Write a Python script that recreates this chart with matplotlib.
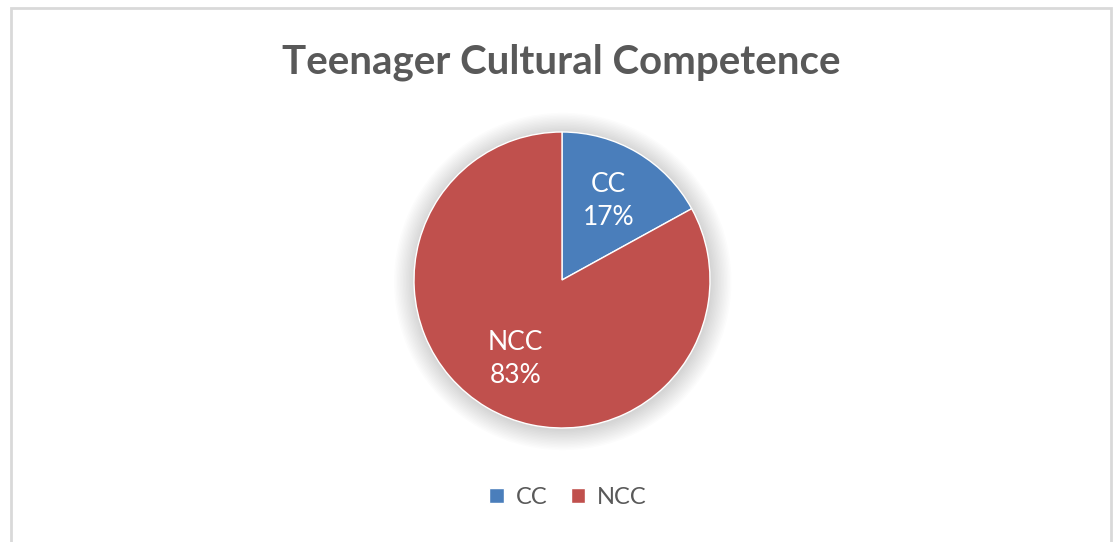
import matplotlib
matplotlib.use("Agg")
import matplotlib.pyplot as plt
from matplotlib.patches import Rectangle, Circle

# data
categories = ["CC", "NCC"]
shares = [17, 83]
colors = ["#4a7ebb", "#c0504d"]
title = "Teenager Cultural Competence"

plt.rcParams['font.family'] = ['Lato', 'DejaVu Sans']

W, H = 1114, 542
fig = plt.figure(figsize=(W / 100, H / 100), dpi=100)

# chart border
fig.patches.append(Rectangle((11 / W, -0.05), 1100 / W, 1.05 - 8 / H,
                             transform=fig.transFigure, fill=False,
                             edgecolor="#d9d9d9", linewidth=2))

cx, cy, r = 562, 280, 148
ax = fig.add_axes([(cx - r) / W, (H - cy - r) / H, 2 * r / W, 2 * r / H])

# soft shadow around pie
for i in range(14):
    ax.add_patch(Circle((0.005, -0.01), 1.0 + 0.01 * (14 - i), color="black",
                        alpha=0.01, linewidth=0, zorder=0, clip_on=False))

labels = ["%s\n%d%%" % (c, v) for c, v in zip(categories, shares)]
wedges, texts = ax.pie(shares, colors=colors, startangle=90, counterclock=False,
                       labels=labels, labeldistance=0.62,
                       wedgeprops=dict(edgecolor="white", linewidth=1))
for t in texts:
    t.set_color("white")
    t.set_fontsize(19)
    t.set_ha("center")
    t.set_va("center")
    t.set_linespacing(1.4)
ax.set_xlim(-1, 1)
ax.set_ylim(-1, 1)
ax.set_aspect("equal")
ax.axis("off")

fig.text(561 / W, 1 - 62 / H, title, ha="center", va="center",
         fontsize=29, fontweight="bold", color="#595959")

fig.legend(wedges, categories, loc="center", bbox_to_anchor=(568 / W, 1 - 497 / H),
           ncol=2, frameon=False, fontsize=17, labelcolor="#595959",
           handlelength=0.62, handleheight=0.62, handletextpad=0.5, columnspacing=1.0)

fig.savefig("out.png", dpi=100)
